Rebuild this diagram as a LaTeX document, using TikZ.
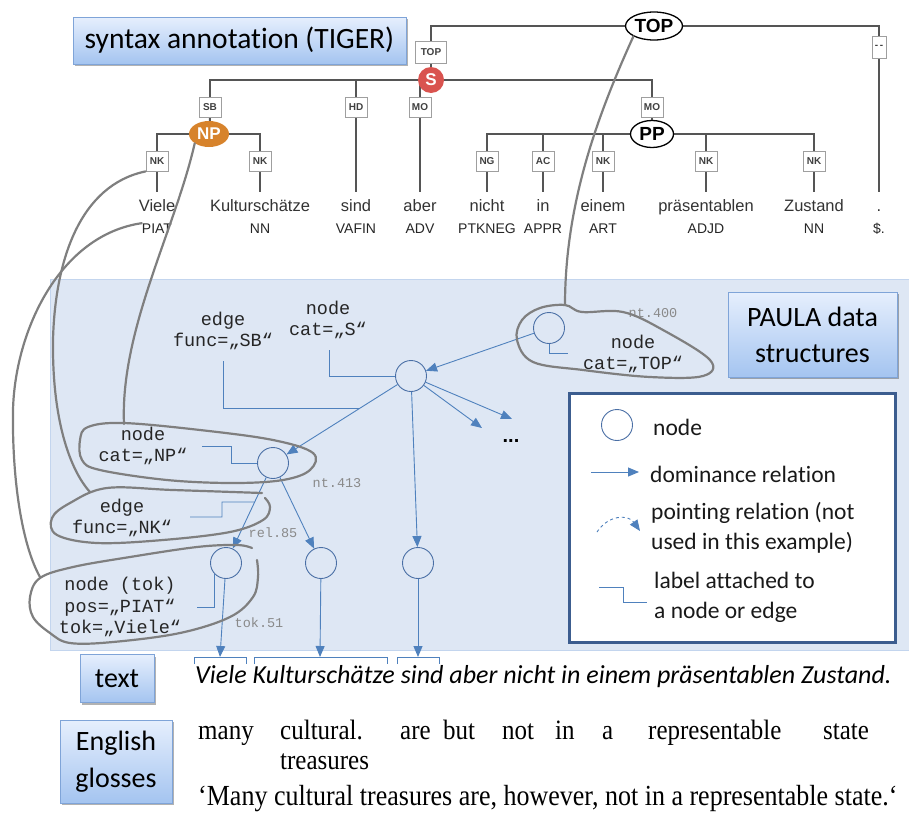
\documentclass[tikz,border=0pt]{standalone}
\usepackage{fontspec}
\usepackage{graphicx}
\setmainfont{Liberation Sans}
\newfontfamily\calib{Carlito}[Ligatures=NoCommon]
\newfontfamily\monof{Liberation Mono}
\newfontfamily\seriff{Liberation Serif}
\usetikzlibrary{arrows.meta,shadows,shapes.geometric,calc}
\definecolor{treegray}{HTML}{555555}
\definecolor{bluel}{HTML}{4F81BD}
\definecolor{pcol}{HTML}{4A6FA5}
\definecolor{regionfill}{HTML}{DEE7F4}
\definecolor{regionline}{HTML}{C3D5EE}
\definecolor{blobgray}{HTML}{7F7F7F}
\definecolor{boxtop}{HTML}{E6EFFD}
\definecolor{boxbot}{HTML}{A4C4F0}
\definecolor{boxline}{HTML}{7FA4D8}
\definecolor{legline}{HTML}{3C5D8F}
\definecolor{sred}{HTML}{D9534F}
\definecolor{nporange}{HTML}{D7832C}
\definecolor{smallgray}{HTML}{8A8A8A}
\pgfdeclarelayer{back}
\pgfdeclarelayer{mid}
\pgfsetlayers{back,mid,main}
\tikzset{
  tbox/.style={draw=boxline, line width=0.8pt, top color=boxtop, bottom color=boxbot, inner sep=0pt, align=center,
    font=\calib\fontsize{28}{36}\selectfont, text=black,
    drop shadow={shadow xshift=1.5pt, shadow yshift=-2pt, opacity=0.3, fill=black}},
  tl/.style={draw=treegray, line width=2pt},
  lab/.style={draw=gray!75, fill=white, line width=0.8pt, minimum width=22pt, minimum height=20pt, inner xsep=2pt, inner ysep=0pt,
    font=\fontsize{10}{10}\selectfont\bfseries, text=black!75},
  word/.style={anchor=base, font=\fontsize{16.5}{18}\selectfont, text=black!80, text height=12pt, inner ysep=3pt, outer ysep=4pt, inner xsep=0pt},
  postag/.style={anchor=base, font=\fontsize{14}{16}\selectfont, text=black!85, inner sep=0pt},
  topell/.style={ellipse, draw=black, line width=1.3pt, fill=white, minimum width=57pt, minimum height=28pt, inner sep=0pt,
    font=\bfseries\fontsize{19}{19}\selectfont},
  ppell/.style={ellipse, draw=black, line width=1.3pt, fill=white, minimum width=43pt, minimum height=27pt, inner sep=0pt,
    font=\bfseries\fontsize{19}{19}\selectfont},
  npell/.style={ellipse, fill=nporange, minimum width=40pt, minimum height=26pt, inner sep=0pt, text=white,
    font=\bfseries\fontsize{17}{17}\selectfont},
  scirc/.style={circle, fill=sred, minimum size=26pt, inner sep=0pt, text=white, font=\bfseries\fontsize{17}{17}\selectfont},
  monot/.style={font=\monof\fontsize{18.5}{21.5}\selectfont, align=center, inner sep=0pt, text=black!85},
  smallid/.style={font=\monof\fontsize{13.5}{14}\selectfont, text=smallgray, inner sep=0pt},
  pc/.style={circle, draw=pcol, line width=0.9pt, minimum size=31pt, inner sep=0pt},
  dom/.style={draw=bluel, line width=0.9pt, -{Triangle[length=11pt,width=9pt]}},
  lbl/.style={draw=bluel, line width=0.9pt},
  blob/.style={draw=blobgray, line width=2.2pt, line cap=round, line join=round},
  leg/.style={font=\calib\fontsize{23.5}{30}\selectfont, anchor=west, inner sep=0pt, text=black!90, align=left},
  gl/.style={font=\seriff\fontsize{25}{26}\selectfont, anchor=base west, inner sep=0pt, text=black}
}
\newcommand{\vstretch}[1]{\scalebox{1}[1.12]{#1}}
\begin{document}
\begin{tikzpicture}[x=1pt,y=-1pt]
\useasboundingbox (0,0) rectangle (909,814);

% ---------- PAULA region background
\begin{pgfonlayer}{back}
\fill[regionfill] (50,279) rectangle (909,650);
\draw[regionline, line width=0.8pt] (909,279) -- (50,279) -- (50,650) -- (909,650);
\end{pgfonlayer}

% ---------- title boxes
\node[tbox, font=\calib\fontsize{29.5}{36}\selectfont, minimum width=333pt, minimum height=47pt] (tiger) at (239.5,40.5) {syntax annotation (TIGER)};
\node[tbox, minimum width=169pt, minimum height=85pt] (paula) at (812.5,334.5) {PAULA data\\structures};
\node[tbox, minimum width=74pt, minimum height=48pt] (textbox) at (117,678.5) {text};
\node[tbox, font=\calib\fontsize{28}{37}\selectfont, minimum width=112pt, minimum height=83pt] (glossbox) at (116,761.5) {English\\glosses};

% ---------- TIGER tree
\node[topell] (top) at (654,26) {TOP};
\node[lab, minimum width=31pt, minimum height=22pt] (ltop) at (431,52) {TOP};
\node[scirc] (s) at (431,80) {S};
\node[lab, minimum width=14pt, minimum height=22pt, inner xsep=0pt] (ldash) at (879,47) {-\,-};
\node[lab] (lsb) at (210,107) {SB};
\node[lab] (lhd) at (356,107) {HD};
\node[lab] (lmo1) at (420,107) {MO};
\node[lab] (lmo2) at (652,107) {MO};
\node[npell] (np) at (209,134) {NP};
\node[ppell] (pp) at (652,134) {PP};
\node[lab] (lnk1) at (157,161) {NK};
\node[lab] (lnk2) at (260,161) {NK};
\node[lab] (lng) at (487,161) {NG};
\node[lab] (lac) at (543,161) {AC};
\node[lab] (lnk3) at (603,161) {NK};
\node[lab] (lnk4) at (706,161) {NK};
\node[lab] (lnk5) at (814,161) {NK};

\node[word] (w1) at (157,211) {Viele};
\node[word] (w2) at (260,211) {Kulturschätze};
\node[word] (w3) at (356,211) {sind};
\node[word] (w4) at (420,211) {aber};
\node[word] (w5) at (487,211) {nicht};
\node[word] (w6) at (543,211) {in};
\node[word] (w7) at (603,211) {einem};
\node[word] (w8) at (706,211) {präsentablen};
\node[word] (w9) at (814,211) {Zustand};
\node[word] (w10) at (879,211) {.};

\node[postag] (p1) at (157,233) {PIAT};
\node[postag] (p2) at (260,233) {NN};
\node[postag] (p3) at (356,233) {VAFIN};
\node[postag] (p4) at (420,233) {ADV};
\node[postag] (p5) at (487,233) {PTKNEG};
\node[postag] (p6) at (543,233) {APPR};
\node[postag] (p7) at (603,233) {ART};
\node[postag] (p8) at (706,233) {ADJD};
\node[postag] (p9) at (814,233) {NN};
\node[postag] (p10) at (879,233) {\$.};

\begin{pgfonlayer}{mid}
\draw[tl] (ltop.north) |- (top.center) -| (ldash.north);
\draw[tl] (ltop.south) -- (s.center);
\draw[tl] (ldash.south) -- (w10.north);
\draw[tl] (lsb.north) |- (s.center) -| (lmo2.north);
\draw[tl] (lhd.north) -- (lhd.north |- s.center);
\draw[tl] (lmo1.north) -- (lmo1.north |- s.center);
\draw[tl] (lsb.south) -- (np.center);
\draw[tl] (lmo2.south) -- (pp.center);
\draw[tl] (lhd.south) -- (w3.north);
\draw[tl] (lmo1.south) -- (w4.north);
\draw[tl] (lnk1.north) |- (np.center) -| (lnk2.north);
\draw[tl] (lng.north) |- (pp.center) -| (lnk5.north);
\draw[tl] (lac.north) -- (lac.north |- pp.center);
\draw[tl] (lnk3.north) -- (lnk3.north |- pp.center);
\draw[tl] (lnk4.north) -- (lnk4.north |- pp.center);
\draw[tl] (lnk1.south) -- (w1.north);
\draw[tl] (lnk2.south) -- (w2.north);
\draw[tl] (lng.south) -- (w5.north);
\draw[tl] (lac.south) -- (w6.north);
\draw[tl] (lnk3.south) -- (w7.north);
\draw[tl] (lnk4.south) -- (w8.north);
\draw[tl] (lnk5.south) -- (w9.north);
\end{pgfonlayer}

% ---------- PAULA structure
\node[monot] (tSB) at (223,331) {edge\\func=„SB“};
\node[monot] (tS) at (328,320) {node\\cat=„S“};
\node[monot] (tNP) at (143,446) {node\\cat=„NP“};
\node[monot] (tNK) at (122,518) {edge\\func=„NK“};
\node[monot] (tTok) at (120,607) {node (tok)\\pos=„PIAT“\\tok=„Viele“};
\node[monot] (tTop) at (633,354) {node\\cat=„TOP“};

\node[smallid] (n413) at (337,483) {nt.413};
\node[smallid] (n400) at (653,313) {nt.400};
\node[smallid] (r85) at (273,533) {rel.85};
\node[smallid] (t51) at (259,623) {tok.51};

\node[pc] (cTop) at (549,328) {};
\node[pc] (cS) at (411,376) {};
\node[pc] (cNP) at (273,463) {};
\node[pc] (cT1) at (226,563) {};
\node[pc] (cT2) at (321,563) {};
\node[pc] (cT3) at (418,563) {};
\coordinate (d1) at (482,428);
\coordinate (d2) at (512,419);
\node[anchor=base, inner sep=0pt, font=\bfseries\fontsize{20}{20}\selectfont] (dots) at (511,442) {...};
\coordinate (b1) at (220,657);
\coordinate (b2) at (320,657);
\coordinate (b3) at (418,657);

\draw[dom] (cTop) -- (cS);
\draw[dom] (cS) -- (cNP);
\draw[dom] (cS) -- (d1);
\draw[dom] (cS) -- (d2);
\draw[dom] (cS) -- (cT3);
\draw[dom] (cNP) -- (cT1);
\draw[dom] (cNP) -- (cT2);
\draw[dom] (cT1) -- (b1);
\draw[dom] (cT2) -- (b2);
\draw[dom] (cT3) -- (b3);

\draw[lbl] (329,350) |- (cS.west);
\coordinate (eSB) at ($(cS.center)!0.368!(cNP.center)$);
\draw[lbl] (223,361) |- (eSB);
\draw[lbl] (202,446) -| (231,463) -- (cNP.west);
\coordinate (eNK) at ($(cNP.center)!0.39!(cT1.center)$);
\draw[lbl] (190,517) -| (222,502) -- (eNK);
\draw[lbl] (197,607) -| (cT1.south west);
\draw[lbl] (cTop.south) |- (568,353);

% brackets under the text
\draw[lbl] (194,664) |- (246,657) -- (246,664);
\draw[lbl] (254,664) |- (387,657) -- (387,664);
\draw[lbl] (397,664) |- (439,657) -- (439,664);

% ---------- grey linking curves and blobs
\draw[blob] (top.south west) .. controls (600,110) and (565,200) .. (565,305);
\draw[blob] plot[smooth cycle, tension=0.6] coordinates {(565,305) (582,312) (623,312) (663,330) (710,360) (703,376) (650,377) (583,370) (533,362) (517,340) (522,320) (540,308)};
\draw[blob] (np.south west) .. controls (175,230) and (120,330) .. (124,424);
\draw[blob] plot[smooth cycle, tension=0.6] coordinates {(123,423) (200,430) (273,440) (313,453) (310,470) (283,480) (233,483) (167,480) (100,470) (82,460) (80,440) (88,427)};
\draw[blob] (lnk1.south west) .. controls (80,185) and (55,260) .. (53,340) .. controls (52,420) and (70,470) .. (90,492);
\draw[blob] plot[smooth, tension=0.6] coordinates {(262,493) (173,490) (107,488) (70,503) (52,518) (57,535) (97,543) (163,540) (230,532) (263,520) (270,507) (265,498)};
\draw[blob] (p1.north west) .. controls (60,235) and (15,330) .. (13,410) .. controls (12,480) and (22,545) .. (40,577);
\draw[blob] plot[smooth, tension=0.6] coordinates {(252,548) (237,545) (197,547) (130,557) (73,567) (40,578) (30,597) (33,617) (50,633) (70,643) (113,642) (180,633) (230,617) (253,597) (258,577) (257,560)};

% ---------- legend
\node[draw=legline, line width=3pt, fill=white, minimum width=326pt, minimum height=249pt, inner sep=0pt] (legend) at (732,517.5) {};
\node[pc] (lc) at (617,425) {};
\node[leg] (lt1) at (653,427) {node};
\coordinate (la1) at (591,472);
\coordinate (la2) at (639,472);
\draw[dom] (la1) -- (la2);
\node[leg] (lt2) at (650,474) {dominance relation};
\coordinate (lp1) at (597,532);
\coordinate (lp2) at (640,531);
\draw[dom, dashed] (lp1) .. controls (608,515) and (628,514) .. (lp2);
\node[leg] (lt3) at (651,528) {pointing relation (not\\used in this example)};
\draw[lbl] (599,587) -| (623,602) -- (647,602);
\node[leg] (lt4) at (654,597) {label attached to\\a node or edge};

% ---------- text and glosses
\node[anchor=west, font=\calib\itshape\fontsize{26}{30}\selectfont, inner sep=0pt] (sent) at (195,677) {Viele Kulturschätze sind aber nicht in einem präsentablen Zustand.};
\node[gl] (g1) at (198,739) {\vstretch{many}};
\node[gl] (g2) at (280,739) {\vstretch{cultural.}};
\node[gl] (g3) at (400,739) {\vstretch{are}};
\node[gl] (g4) at (443,739) {\vstretch{but}};
\node[gl] (g5) at (502,739) {\vstretch{not}};
\node[gl] (g6) at (555,739) {\vstretch{in}};
\node[gl] (g7) at (602,739) {\vstretch{a}};
\node[gl] (g8) at (648,739) {\vstretch{representable}};
\node[gl] (g9) at (823,739) {\vstretch{state}};
\node[gl] (g10) at (280,769) {\vstretch{treasures}};
\node[gl, font=\seriff\fontsize{26}{26}\selectfont] (g11) at (198,805) {\vstretch{‘Many cultural treasures are, however, not in a representable state.‘}};
\end{tikzpicture}
\end{document}
